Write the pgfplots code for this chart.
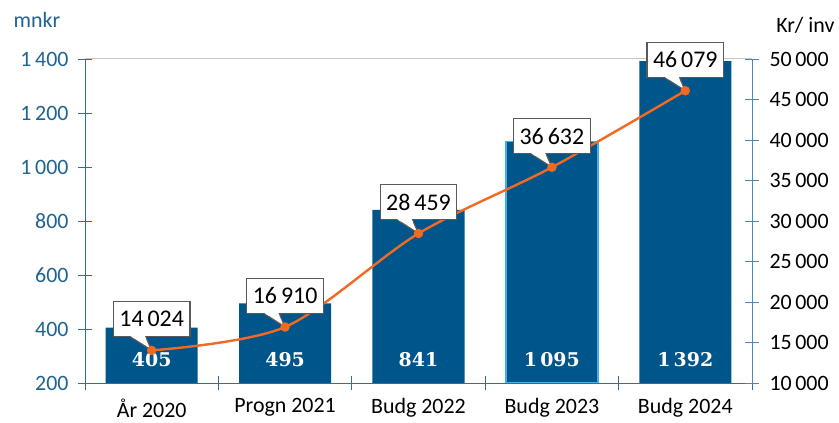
\documentclass[border=0pt]{standalone}
\usepackage{fontspec}
\setmainfont{Carlito}
\newfontfamily\barfont{DejaVu Serif}
\usepackage{pgfplots}
\pgfplotsset{compat=1.18}
\usepackage{pgfplotstable}
\definecolor{barblue}{HTML}{00558A}
\definecolor{tickblue}{HTML}{1F6391}
\definecolor{axblue}{HTML}{2F6F9F}
\definecolor{axblue2}{HTML}{4F86B5}
\definecolor{lineorange}{HTML}{F26A21}
\definecolor{selblue}{HTML}{41B0EE}
\definecolor{boxgray}{HTML}{595959}
\pgfkeys{/pgf/number format/.cd, 1000 sep={\,}, assume math mode=true}
\pgfdeclareplotmark{ptr}{%
  \pgfpathmoveto{\pgfpoint{0bp}{0bp}}%
  \pgfpathlineto{\pgfpoint{-25bp}{16bp}}%
  \pgfpathlineto{\pgfpoint{-7bp}{16bp}}%
  \pgfpathclose\pgfusepathqfillstroke}
\pgfdeclareplotmark{ptrcover}{%
  \pgfpathmoveto{\pgfpoint{-16.8bp}{11.5bp}}%
  \pgfpathlineto{\pgfpoint{-5.7bp}{11.5bp}}%
  \pgfpathlineto{\pgfpoint{-7.0bp}{14.6bp}}%
  \pgfpathlineto{\pgfpoint{-21.5bp}{14.6bp}}%
  \pgfpathclose\pgfusepathqfill}
\pgfplotstableread{
x y
0 14024
1 16910
2 28459
3 36632
4 46079
}\perinv
\begin{document}
\begin{tikzpicture}
\path[use as bounding box] (-85bp,-40bp) rectangle (754bp,383bp);
\begin{axis}[
  at={(0,0)}, anchor=south west,
  scale only axis, width=667bp, height=324bp,
  xmin=-0.5, xmax=4.5, ymin=200, ymax=1400,
  clip mode=individual,
  axis x line*=bottom, axis y line*=left,
  axis line style={draw=axblue, line width=0.8bp, -},
  ytick={200,400,...,1400},
  xtick={0,...,4},
  xticklabels={År 2020, Progn 2021, Budg 2022, Budg 2023, Budg 2024},
  minor xtick={-0.5,0.5,...,4.5},
  tick align=center,
  major tick length=14bp, minor tick length=14bp,
  every tick/.style={draw=axblue, line width=0.8bp},
  major x tick style={draw=none},
  yticklabel style={text=tickblue, font=\fontsize{22}{26}\selectfont, xshift=-6bp},
  xticklabel style={text=black, font=\fontsize{22}{26}\selectfont, yshift=-5bp},
  extra y ticks={1400}, extra y tick labels={},
  extra y tick style={grid=major, major grid style={draw=gray!45, line width=1bp}, tick style={draw=none}},
]
\addplot[ybar, bar width=92bp, bar shift=0pt, fill=barblue, draw=none]
  coordinates {(0,405) (1,495) (2,841) (3,1095) (4,1392)};
\addplot[ybar, bar width=92bp, bar shift=0pt, fill=barblue, draw=selblue, line width=1.5bp]
  coordinates {(3,1095)};
\addplot[draw=none, mark=none, nodes near coords, point meta=explicit symbolic,
  every node near coord/.append style={anchor=center, text=white, font=\barfont\bfseries\fontsize{19}{23}\selectfont}]
  coordinates {(0,285)[405] (1,285)[495] (2,285)[841] (3,285)[1\,095] (4,285)[1\,392]};
\node[text=tickblue, font=\fontsize{22}{26}\selectfont] at (rel axis cs:-0.072,1.12) {mnkr};
\end{axis}
\begin{axis}[
  at={(0,0)}, anchor=south west,
  scale only axis, width=667bp, height=324bp,
  xmin=-0.5, xmax=4.5, ymin=10000, ymax=50000,
  clip mode=individual,
  scaled y ticks=false,
  axis y line*=right, axis x line=none,
  axis line style={draw=axblue2, line width=0.8bp, -},
  ytick={10000,15000,...,50000},
  tick align=center,
  major tick length=14bp,
  every tick/.style={draw=axblue2, line width=0.8bp},
  yticklabel style={text=black, font=\fontsize{22}{26}\selectfont, xshift=7bp},
]
% line
\addplot[lineorange, line width=2.4bp, smooth, mark=none] table[x=x, y=y] {\perinv};
% pointer with border
\addplot[only marks, mark=ptr, mark options={draw=boxgray, fill=white, line width=1.2bp}]
  table[x=x, y=y] {\perinv};
% box
\addplot[draw=none, mark=none, nodes near coords, point meta=y,
  every node near coord/.append style={rectangle, draw=boxgray, line width=1.2bp, fill=white,
    text=black, font=\fontsize{24}{28}\selectfont,
    minimum height=35bp, inner xsep=6bp, anchor=south, yshift=13bp}]
  table[x=x, y=y] {\perinv};
% hide box border at pointer base
\addplot[only marks, mark=ptrcover, mark options={draw=none, fill=white}]
  table[x=x, y=y] {\perinv};
% marks
\addplot[only marks, mark=*, mark size=4.5bp, mark options={fill=lineorange, draw=lineorange}]
  table[x=x, y=y] {\perinv};
\node[font=\fontsize{22}{26}\selectfont] at (rel axis cs:1.08,1.105) {Kr/ inv};
\end{axis}
\end{tikzpicture}
\end{document}
